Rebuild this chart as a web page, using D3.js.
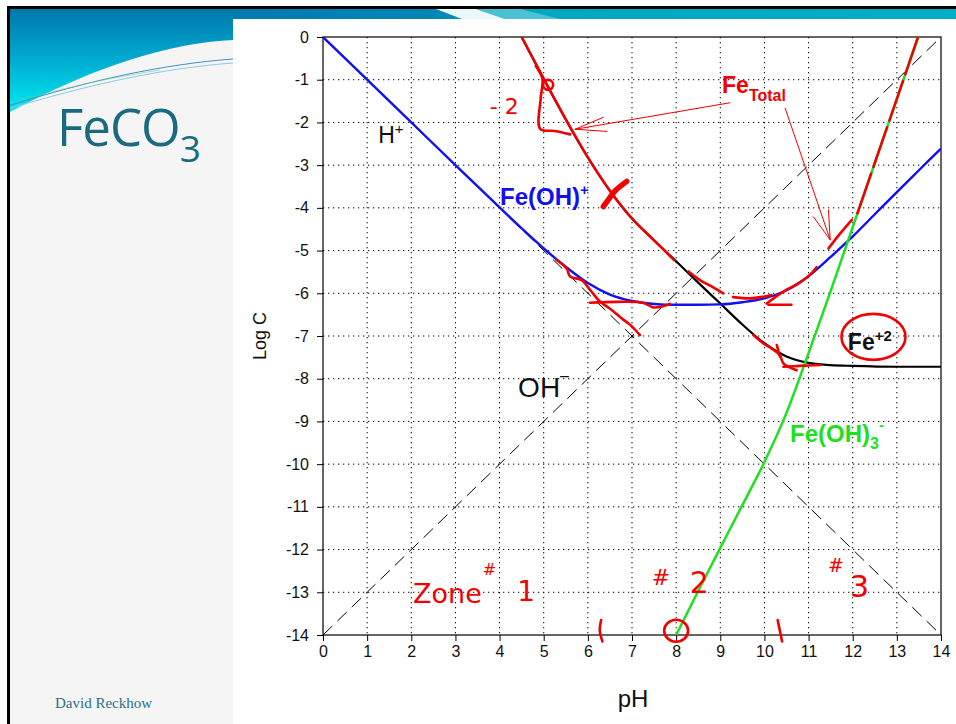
<!DOCTYPE html>
<html><head><meta charset="utf-8">
<script src="https://cdn.jsdelivr.net/npm/d3@7/dist/d3.min.js"></script>
<style>html,body{margin:0;padding:0;background:#fff}svg{display:block}</style>
</head><body>
<svg id="chart" width="956" height="724"></svg>
<script>
// ---------------- DATA (pH, log C) ----------------
const pHTicks = [0,1,2,3,4,5,6,7,8,9,10,11,12,13,14];
const logCTicks = [0,-1,-2,-3,-4,-5,-6,-7,-8,-9,-10,-11,-12,-13,-14];

const hPlus  = [[0,0],[14,-14]];
const ohMinus = [[0,-14],[14,0]];

const fe2 = [[4.5,0],[5.0,-0.98],[5.5,-1.93],[6.0,-2.82],[6.5,-3.6],[7.0,-4.25],[7.5,-4.76],[8.0,-5.25],[8.5,-5.75],[9.0,-6.24],[9.5,-6.73],[10.0,-7.17],[10.5,-7.48],[11.0,-7.63],[11.5,-7.68],[12.0,-7.7],[13.0,-7.72],[14.0,-7.72]];

const feOH = [[0,0],[1,-1],[2,-2],[3,-3],[4,-3.99],[4.5,-4.48],[5,-4.95],[5.5,-5.38],[6,-5.76],[6.5,-6.03],[7,-6.18],[7.5,-6.25],[8,-6.27],[8.5,-6.27],[9,-6.26],[9.5,-6.21],[10,-6.12],[10.5,-5.93],[11,-5.6],[11.5,-5.15],[12,-4.67],[12.5,-4.15],[13,-3.63],[13.5,-3.12],[14,-2.61]];

const feOH3 = [[8,-14],[8.5,-12.97],[9,-11.96],[9.5,-10.96],[10,-9.95],[10.5,-8.8],[11,-7.4],[11.5,-5.95],[12,-4.45],[12.5,-2.95],[13,-1.45],[13.48,0]];

const feTotalLow  = [[4.5,0],[5.0,-0.98],[5.5,-1.93],[6.0,-2.82],[6.5,-3.6],[7.0,-4.25],[7.5,-4.76],[7.97,-5.24]];
const feTotalHigh = [[12.1,-4.15],[12.5,-2.95],[13,-1.45],[13.48,0]];

// hand-drawn red annotation strokes (pH, log C)
const inkTriangle = [[4.82,-0.68],[4.97,-0.98],[4.93,-1.45],[4.92,-2.15],[5.25,-2.2],[5.6,-2.28]];
const inkX        = [[6.35,-3.97],[6.47,-3.8],[6.62,-3.6],[6.88,-3.38]];
const inkWavyA    = [[5.29,-5.22],[5.52,-5.42],[5.6,-5.61],[5.86,-5.69],[6.05,-5.92],[6.28,-6.2],[6.54,-6.39],[6.77,-6.59],[6.96,-6.74],[7.18,-6.98]];
const inkPlateau  = [[6.05,-6.22],[6.65,-6.2],[7.25,-6.22],[7.48,-6.33],[7.71,-6.3],[7.86,-6.25]];
const inkCurveB   = [[8.28,-5.49],[8.54,-5.69],[8.84,-5.86],[9.07,-6.0]];
const inkCurveC   = [[9.29,-6.09],[9.67,-6.12],[9.98,-6.08],[10.16,-6.04]];
const inkFlat     = [[10.09,-6.27],[10.61,-6.27]];
const inkRise     = [[10.05,-6.24],[10.43,-5.96],[10.77,-5.77],[11.03,-5.57],[11.18,-5.39]];
const inkShort    = [[11.45,-4.95],[11.7,-4.62],[11.98,-4.28]];
const inkWavyD    = [[9.75,-6.98],[9.97,-7.17],[10.16,-7.29],[10.35,-7.45],[10.43,-7.64],[10.73,-7.8]];
const inkTickD    = [[10.28,-7.21],[10.35,-7.48]];
const inkFlatD    = [[10.43,-7.72],[10.8,-7.7],[11.26,-7.68]];
const inkMarkA    = [[6.3,-13.65],[6.27,-13.9],[6.33,-14.15]];
const inkMarkB    = [[10.3,-13.65],[10.35,-13.9],[10.4,-14.15]];
const arrowA      = [[9.22,-1.54],[5.71,-2.16]];
const arrowAHead  = [[6.35,-1.88],[5.71,-2.16],[6.43,-2.21]];
const arrowB      = [[10.47,-1.67],[11.49,-4.75]];
const arrowBHead  = [[11.11,-4.21],[11.49,-4.75],[11.45,-4.05]];
const inkCircles  = [{c:[5.1,-1.12],rx:5,ry:5},{c:[8.0,-13.9],rx:12,ry:11},{c:[12.47,-7.02],rx:32,ry:23}];

// ---------------- LAYOUT ----------------
const svg = d3.select('#chart');
const FONT = '"Liberation Sans", Arial, Helvetica, sans-serif';
const x = d3.scaleLinear().domain([0,14]).range([323,941]);
const y = d3.scaleLinear().domain([0,-14]).range([37,635]);

// slide background
const defs = svg.append('defs');
const g1 = defs.append('linearGradient').attr('id','gTopLeft').attr('gradientUnits','userSpaceOnUse')
  .attr('x1',0).attr('y1',8).attr('x2',0).attr('y2',113);
g1.append('stop').attr('offset',0).attr('stop-color','#0076ab');
g1.append('stop').attr('offset',0.55).attr('stop-color','#00b2d4');
g1.append('stop').attr('offset',1).attr('stop-color','#00ecf2');
const g2 = defs.append('linearGradient').attr('id','gBand').attr('gradientUnits','userSpaceOnUse')
  .attr('x1',233).attr('y1',0).attr('x2',956).attr('y2',0);
g2.append('stop').attr('offset',0).attr('stop-color','#007aaf');
g2.append('stop').attr('offset',0.28).attr('stop-color','#0086b6');
g2.append('stop').attr('offset',0.38).attr('stop-color','#00a6c2');
g2.append('stop').attr('offset',1).attr('stop-color','#00aec3');
defs.append('clipPath').attr('id','plotClip').append('rect')
  .attr('x',x(0)).attr('y',y(0)).attr('width',x(14)-x(0)).attr('height',y(-14)-y(0));

svg.append('rect').attr('x',8).attr('y',7).attr('width',948).attr('height',717).attr('fill','#f5f5f5');
svg.append('rect').attr('x',8).attr('y',7).attr('width',948).attr('height',12).attr('fill','url(#gBand)');
svg.append('path').attr('d','M436,9 L476,9 L505,19 L462,19 Z').attr('fill','#e8f8fb');
svg.append('path').attr('d','M505,19 L476,9 L520,9 L560,19 Z').attr('fill','#7fd3e0').attr('opacity',0.6);
svg.append('path').attr('d','M8,7 H233 V40 C170,43 95,66 8,113 Z').attr('fill','url(#gTopLeft)');
svg.append('path').attr('d','M8,106 C90,80 165,64 233,59').attr('fill','none').attr('stroke','#3f8fcf').attr('stroke-width',1);
svg.append('path').attr('d','M8,109 C90,84 165,68 233,63').attr('fill','none').attr('stroke','#8cc9e4').attr('stroke-width',1);
svg.append('path').attr('d','M8,104 C60,88 110,78 160,70').attr('fill','none').attr('stroke','#6fcf8f').attr('stroke-width',0.8).attr('opacity',0.7);
svg.append('rect').attr('x',233).attr('y',19).attr('width',723).attr('height',705).attr('fill','#ffffff');
svg.append('line').attr('x1',8.5).attr('x2',8.5).attr('y1',6).attr('y2',724).attr('stroke','#000').attr('stroke-width',3);
svg.append('line').attr('x1',7).attr('x2',956).attr('y1',7.5).attr('y2',7.5).attr('stroke','#000').attr('stroke-width',3);

// title and footer
const title = svg.append('text').attr('x',57).attr('y',146).attr('fill','#1b6b80')
  .style('font-family','"Open Sans", "Noto Sans", sans-serif').style('font-size','51px').attr('letter-spacing',-1);
title.append('tspan').text('FeCO');
title.append('tspan').attr('dy',16).style('font-size','37px').text('3');
svg.append('text').attr('x',55).attr('y',708).attr('fill','#2a7088')
  .style('font-family','"Liberation Serif", "DejaVu Serif", serif').style('font-size','15px').text('David Reckhow');

// ---------------- GRID & AXES ----------------
const grid = svg.append('g');
grid.selectAll('.gx').data(pHTicks.slice(1,-1)).join('line')
  .attr('x1',d=>x(d)).attr('x2',d=>x(d)).attr('y1',y(0)).attr('y2',y(-14))
  .attr('stroke','#000').attr('stroke-width',1).attr('stroke-dasharray','1.3,3.7');
grid.selectAll('.gy').data(logCTicks.slice(1,-1)).join('line')
  .attr('y1',d=>y(d)).attr('y2',d=>y(d)).attr('x1',x(0)).attr('x2',x(14))
  .attr('stroke','#000').attr('stroke-width',1).attr('stroke-dasharray','1.3,3.7');

const ax = svg.append('g').attr('transform',`translate(0,${y(-14)})`)
  .call(d3.axisBottom(x).tickValues(pHTicks).tickSize(6).tickPadding(5).tickFormat(d3.format('d')));
const ay = svg.append('g').attr('transform',`translate(${x(0)},0)`)
  .call(d3.axisLeft(y).tickValues(logCTicks).tickSize(6).tickPadding(8).tickFormat(d=>d===0?'0':String(d)));
[ax,ay].forEach(a=>{
  a.select('.domain').remove();
  a.selectAll('line').attr('stroke','#000');
  a.selectAll('text').style('font-family',FONT).style('font-size','16px').attr('fill','#111');
});
svg.append('rect').attr('x',x(0)).attr('y',y(0)).attr('width',x(14)-x(0)).attr('height',y(-14)-y(0))
  .attr('fill','none').attr('stroke','#000').attr('stroke-width',1.2);

svg.append('text').attr('x',633).attr('y',707).attr('text-anchor','middle')
  .style('font-family',FONT).style('font-size','24px').attr('fill','#111').text('pH');
svg.append('text').attr('transform','translate(266,336) rotate(-90)').attr('text-anchor','middle')
  .style('font-family',FONT).style('font-size','18px').attr('fill','#111').text('Log C');

// ---------------- SERIES ----------------
const plot = svg.append('g').attr('clip-path','url(#plotClip)');
const lineM = d3.line().x(d=>x(d[0])).y(d=>y(d[1])).curve(d3.curveMonotoneX);
const lineL = d3.line().x(d=>x(d[0])).y(d=>y(d[1]));
const lineC = d3.line().x(d=>x(d[0])).y(d=>y(d[1])).curve(d3.curveCatmullRom);

plot.append('path').attr('d',lineL(hPlus)).attr('fill','none').attr('stroke','#000').attr('stroke-width',1).attr('stroke-dasharray','13,7');
plot.append('path').attr('d',lineL(ohMinus)).attr('fill','none').attr('stroke','#000').attr('stroke-width',1).attr('stroke-dasharray','13,7');
plot.append('path').attr('d',lineM(fe2)).attr('fill','none').attr('stroke','#000').attr('stroke-width',2.2);
plot.append('path').attr('d',lineM(feOH)).attr('fill','none').attr('stroke','#1010f0').attr('stroke-width',2.4);
plot.append('path').attr('d',lineM(feOH3)).attr('fill','none').attr('stroke','#1ee01e').attr('stroke-width',2.5);
plot.append('path').attr('d',lineM(feTotalLow)).attr('fill','none').attr('stroke','#f00000').attr('stroke-width',2.5);
plot.append('path').attr('d',lineM(feTotalHigh)).attr('fill','none').attr('stroke','#f00000').attr('stroke-width',2.5).attr('stroke-dasharray','44,5');

// ---------------- INK ANNOTATIONS ----------------
const ink = svg.append('g').attr('fill','none').attr('stroke','#f20000').attr('stroke-linecap','round').attr('stroke-linejoin','round');
[inkTriangle,inkWavyA,inkPlateau,inkCurveB,inkCurveC,inkFlat,inkRise,inkShort,inkWavyD,inkTickD,inkFlatD,inkMarkA,inkMarkB]
  .forEach(s=>ink.append('path').attr('d',lineC(s)).attr('stroke-width',2.6));
ink.append('path').attr('d',lineC(inkX)).attr('stroke-width',5.5);
[arrowA,arrowAHead,arrowB,arrowBHead].forEach(s=>ink.append('path').attr('d',lineL(s)).attr('stroke-width',1));
ink.selectAll('ellipse').data(inkCircles).join('ellipse')
  .attr('cx',d=>x(d.c[0])).attr('cy',d=>y(d.c[1])).attr('rx',d=>d.rx).attr('ry',d=>d.ry).attr('stroke-width',2.6);

const hand = '"DejaVu Sans", sans-serif';
function txt(p, s, size, color, weight, fam){
  return svg.append('text').attr('x',x(p[0])).attr('y',y(p[1])).attr('fill',color)
    .style('font-family',fam||FONT).style('font-size',size+'px').style('font-weight',weight||'normal').text(s);
}
txt([3.78,-1.8],'- 2',22,'#f20000','normal',hand);
txt([2.04,-13.25],'Zone',27,'#f20000','normal',hand);
txt([3.62,-12.6],'#',16,'#f20000','normal',hand);
txt([4.4,-13.2],'1',28,'#f20000','normal',hand);
txt([7.45,-12.83],'#',22,'#f20000','normal',hand);
txt([8.31,-13.02],'2',30,'#f20000','normal',hand);
txt([11.44,-12.53],'#',19,'#f20000','normal',hand);
txt([11.94,-13.11],'3',30,'#f20000','normal',hand);

// ---------------- SERIES LABELS ----------------
function lab(p, main, subs, size, color, weight){
  const t = svg.append('text').attr('x',x(p[0])).attr('y',y(p[1])).attr('fill',color)
    .style('font-family',FONT).style('font-size',size+'px').style('font-weight',weight);
  t.append('tspan').text(main);
  subs.forEach(s=>t.append('tspan').attr('dy',s.dy).attr('dx',s.dx||0).style('font-size',s.size+'px').text(s.t));
  return t;
}
lab([1.25,-2.49],'H',[{t:'+',dy:-9,size:15}],23,'#111','normal');
lab([4.01,-3.93],'Fe(OH)',[{t:'+',dy:-10,size:15}],24,'#1010f0','bold');
lab([4.42,-8.42],'OH',[{t:'\u2013',dx:0,dy:-16,size:16}],28,'#111','normal');
lab([10.58,-9.48],'Fe(OH)',[{t:'3',dy:7,size:16},{t:'-',dy:-19,size:15}],24,'#1ee01e','bold');
lab([9.04,-1.32],'Fe',[{t:'Total',dy:8,size:16}],23,'#f00000','bold');
lab([11.89,-7.33],'Fe',[{t:'+2',dy:-9,size:15}],23,'#111','bold');
</script>
</body></html>
